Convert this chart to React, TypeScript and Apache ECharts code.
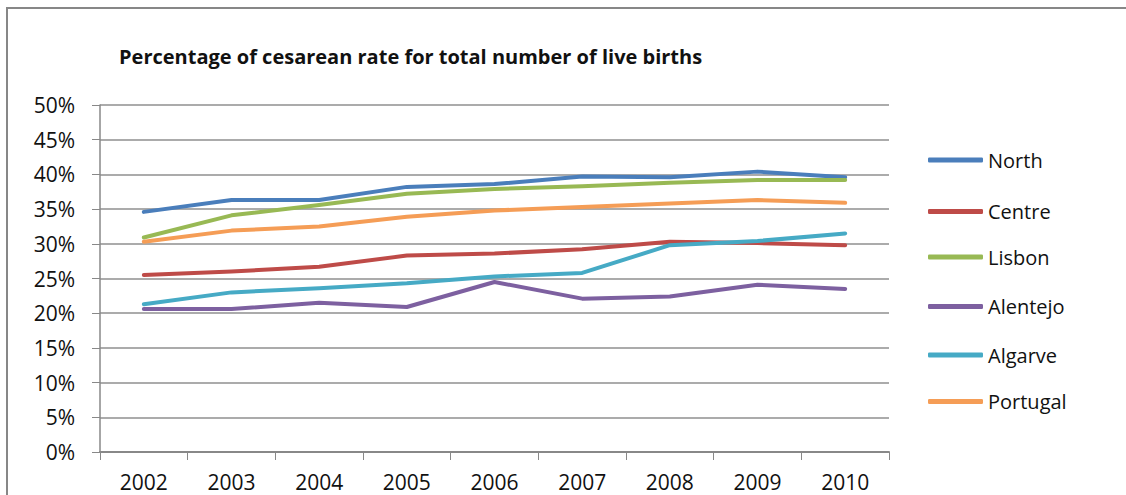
import React, { useEffect, useRef } from "react";
import * as echarts from "echarts";

const years = ["2002", "2003", "2004", "2005", "2006", "2007", "2008", "2009", "2010"];
const north = [34.6, 36.3, 36.3, 38.2, 38.6, 39.7, 39.6, 40.4, 39.6];
const centre = [25.5, 26.0, 26.7, 28.3, 28.6, 29.2, 30.3, 30.1, 29.8];
const lisbon = [30.9, 34.1, 35.6, 37.2, 37.9, 38.3, 38.8, 39.2, 39.2];
const alentejo = [20.6, 20.6, 21.5, 20.9, 24.5, 22.1, 22.4, 24.1, 23.5];
const algarve = [21.3, 23.0, 23.6, 24.3, 25.3, 25.8, 29.8, 30.4, 31.5];
const portugal = [30.3, 31.9, 32.5, 33.9, 34.8, 35.3, 35.8, 36.3, 35.9];

const seriesNames = ["North", "Centre", "Lisbon", "Alentejo", "Algarve", "Portugal"];
const seriesData = [north, centre, lisbon, alentejo, algarve, portugal];
const colors = ["#4A7EBB", "#BE4B48", "#98B954", "#7D60A0", "#46AAC5", "#F59D56"];
const legendCenters = [160, 211.5, 257, 306.5, 355, 401.5];

const FONT = "'Open Sans', sans-serif";

export default function App() {
  const ref = useRef<HTMLDivElement>(null);
  useEffect(() => {
    if (!ref.current) return;
    const chart = echarts.init(ref.current, undefined, { renderer: "svg" });
    chart.setOption({
      animation: false,
      backgroundColor: "#ffffff",
      color: colors,
      textStyle: { fontFamily: FONT },
      title: {
        text: "Percentage of cesarean rate for total number of live births",
        left: 114,
        top: 41,
        textStyle: { fontFamily: FONT, fontWeight: "bold", fontSize: 20, color: "#111" },
      },
      graphic: [
        {
          type: "rect",
          shape: { x: 7, y: 8, width: 1300, height: 700 },
          style: { fill: "none", stroke: "#878787", lineWidth: 2 },
          silent: true,
        },
      ],
      legend: seriesNames.map((n, i) => ({
        data: [n],
        left: 928,
        top: legendCenters[i] - 12,
        padding: 0,
        itemWidth: 55,
        itemHeight: 5,
        icon: "roundRect",
        textStyle: { fontFamily: FONT, fontSize: 20, color: "#111", lineHeight: 24 },
      })),
      grid: { left: 100, right: 237, top: 105, bottom: 43, containLabel: false },
      xAxis: {
        type: "category",
        data: years,
        boundaryGap: true,
        axisLine: { show: true, lineStyle: { color: "#888", width: 2 } },
        axisTick: { show: true, length: 8, lineStyle: { color: "#888" } },
        axisLabel: { fontSize: 21, lineHeight: 22, color: "#111", margin: 19, fontFamily: FONT },
      },
      yAxis: {
        type: "value",
        min: 0,
        max: 50,
        interval: 5,
        axisLine: { show: true, lineStyle: { color: "#888", width: 1.5 } },
        axisTick: { show: true, length: 8, lineStyle: { color: "#888" } },
        axisLabel: { fontSize: 21, color: "#111", margin: 25, formatter: "{value}%", fontFamily: FONT },
        splitLine: { show: true, lineStyle: { color: "#8f8f8f", width: 1.5 } },
      },
      series: seriesNames.map((n, i) => ({
        name: n,
        type: "line",
        data: seriesData[i],
        symbol: "none",
        lineStyle: { width: 4, color: colors[i], cap: "round", join: "round" },
        itemStyle: { color: colors[i] },
      })),
    });
    return () => chart.dispose();
  }, []);
  return (
    <div
      ref={ref}
      style={{ position: "absolute", left: 0, top: 0, width: 1126, height: 495 }}
    />
  );
}
